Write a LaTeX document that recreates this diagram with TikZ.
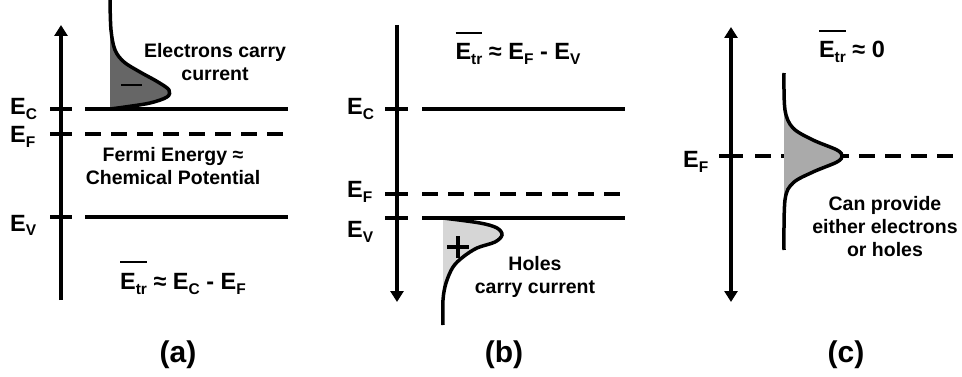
\documentclass[tikz,border=0pt]{standalone}
\usepackage{fontspec}
\setmainfont{Liberation Sans}
\usetikzlibrary{arrows.meta}
\definecolor{elecgray}{RGB}{102,102,102}
\definecolor{midgray}{RGB}{170,170,170}
\definecolor{holegray}{RGB}{214,214,214}
\newcommand{\lsub}[1]{\raisebox{-5pt}{\fontsize{15.5}{15.5}\selectfont #1}}
\newsavebox{\etrbox}
\newcommand{\Etr}{\sbox{\etrbox}{E\lsub{tr}}\rlap{\rule[26pt]{\wd\etrbox}{2pt}}\usebox{\etrbox}}

\begin{document}
\begin{tikzpicture}[
    x=1pt, y=-1pt,
    >={Triangle[width=13pt,length=11pt]},
    axis/.style={line width=4pt},
    tickmark/.style={line width=3.5pt},
    level/.style={line width=3.5pt},
    fermi/.style={line width=3.5pt, dash pattern=on 16pt off 10pt},
    dos/.style={line width=3.5pt, smooth, tension=0.55},
    lbl/.style={font=\fontsize{23.5}{23.5}\selectfont\bfseries, inner sep=0pt},
    txt/.style={font=\fontsize{19.5}{23}\selectfont\bfseries, align=center, inner sep=0pt},
    panelcap/.style={font=\fontsize{30}{30}\selectfont\bfseries, inner sep=0pt}
]
    \useasboundingbox (0,0) rectangle (962,377);

    % (a) electrons above E_C
    \fill[elecgray] plot[smooth, tension=0.55] coordinates {(110,2) (111,30) (115,50) (124,62) (140,72) (158,82) (169,90) (167,97) (150,103) (125,107) (110,109)} -- cycle;
    \draw[axis, ->] (61,300) -- (61,25);
    \foreach \y in {109,134,217} \draw[tickmark] (50,\y) -- (72,\y);
    \draw[level] (85,109) -- (288,109);
    \draw[fermi] (85,134) -- (288,134);
    \draw[level] (85,217) -- (288,217);
    \draw[dos] plot coordinates {(110,0) (111,30) (115,50) (124,62) (140,72) (158,82) (169,90) (167,97) (150,103) (125,107) (110,109)};
    \draw[line width=2pt] (121,85) -- (142,85);

    \node[lbl, anchor=base west] (ec-a) at (10,115) {E\lsub{C}};
    \node[lbl, anchor=base west] (ef-a) at (10,143) {E\lsub{F}};
    \node[lbl, anchor=base west] (ev-a) at (10,231) {E\lsub{V}};
    \node[txt] (elec) at (215,62) {Electrons carry\\current};
    \node[txt] (fermi-a) at (173,166) {Fermi Energy ≈\\Chemical Potential};
    \node[lbl, anchor=base] (etr-a) at (183,289) {\Etr{} ≈ E\lsub{C} - E\lsub{F}};
    \node[panelcap] (cap-a) at (178,355) {(a)};

    % (b) holes below E_V
    \fill[holegray] plot[smooth, tension=0.55] coordinates {(443,218) (480,223) (497,228) (502,235) (495,242) (477,248) (463,257) (453,267) (446,283) (443,300) (443,325)} -- cycle;
    \draw[axis, ->] (397,25) -- (397,302);
    \foreach \y in {109,194,218} \draw[tickmark] (385,\y) -- (408,\y);
    \draw[level] (422,109) -- (625,109);
    \draw[fermi] (422,194) -- (625,194);
    \draw[level] (422,218) -- (625,218);
    \draw[dos] plot coordinates {(443,218) (480,223) (497,228) (502,235) (495,242) (477,248) (463,257) (453,267) (446,283) (443,300) (443,325)};
    \draw[line width=3.5pt] (447,247) -- (469,247) (458,236) -- (458,258);

    \node[lbl, anchor=base west] (ec-b) at (347,115) {E\lsub{C}};
    \node[lbl, anchor=base west] (ef-b) at (347,198) {E\lsub{F}};
    \node[lbl, anchor=base west] (ev-b) at (347,237) {E\lsub{V}};
    \node[lbl, anchor=base] (etr-b) at (518,60) {\Etr{} ≈ E\lsub{F} - E\lsub{V}};
    \node[txt] (holes) at (535,277) {Holes\\carry current};
    \node[panelcap] (cap-b) at (504,355) {(b)};

    % (c) E_F in the middle of the states
    \draw[axis, <->] (731,27) -- (731,302);
    \draw[tickmark] (719,156) -- (743,156);
    \draw[fermi] (755,156) -- (962,156);
    \fill[midgray] plot[smooth, tension=0.55] coordinates {(784,73) (785,110) (793,128) (813,140) (837,150) (842,156) (837,162) (813,172) (793,183) (785,200) (784,250)} -- cycle;
    \draw[dos] plot coordinates {(784,73) (785,110) (793,128) (813,140) (837,150) (842,156) (837,162) (813,172) (793,183) (785,200) (784,250)};

    \node[lbl, anchor=base west] (ef-c) at (683,168) {E\lsub{F}};
    \node[lbl, anchor=base] (etr-c) at (852,58) {\Etr{} ≈ 0};
    \node[txt] (either) at (885,227) {Can provide\\either electrons\\or holes};
    \node[panelcap] (cap-c) at (846,355) {(c)};
\end{tikzpicture}
\end{document}
